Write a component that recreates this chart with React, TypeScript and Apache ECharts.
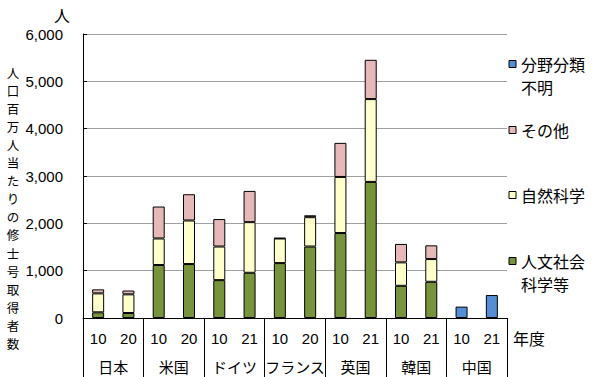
import React, { useEffect, useRef } from "react";
import * as echarts from "echarts";

const years = ["10", "20", "10", "20", "10", "21", "10", "20", "10", "21", "10", "21", "10", "21"];
const countries = ["日本", "米国", "ドイツ", "フランス", "英国", "韓国", "中国"];
const humanities = [120, 105, 1120, 1140, 800, 955, 1160, 1510, 1795, 2875, 680, 765, null, null];
const science = [400, 395, 560, 920, 710, 1070, 520, 620, 1185, 1750, 495, 480, null, null];
const other = [85, 80, 675, 555, 580, 660, 10, 40, 720, 830, 390, 290, null, null];
const unknown = [null, null, null, null, null, null, null, null, null, null, null, null, 240, 485];
const yTicks = [0, 1000, 2000, 3000, 4000, 5000, 6000];

const seriesNames = ["人文社会科学等", "自然科学", "その他", "分野分類不明"];
const seriesColors = ["#77933C", "#FFFFCC", "#E6B9B8", "#558ED5"];
const legendLabels = ["分野分類\n不明", "その他", "自然科学", "人文社会\n科学等"];
const yTitle = "人口百万人当たりの修士号取得者数";

const FONT = "'Noto Sans CJK JP', 'Noto Sans', sans-serif";
const NUM_FONT = "'Liberation Sans', Arial, sans-serif";

export default function App() {
  const ref = useRef<HTMLDivElement>(null);
  useEffect(() => {
    if (!ref.current) return;
    const chart = echarts.init(ref.current, null, { renderer: "svg" });
    const data = [humanities, science, other, unknown];
    const legendY = [64, 130, 195, 261];
    const legendOrder = [3, 2, 1, 0];
    const graphics: any[] = [];
    legendOrder.forEach((si, i) => {
      graphics.push({
        type: "rect",
        shape: { x: 509, y: legendY[i] - 3.5, width: 7, height: 7 },
        style: { fill: seriesColors[si], stroke: "#000", lineWidth: 1 },
      });
      legendLabels[i].split("\n").forEach((line, li) => {
        graphics.push({
          type: "text",
          x: 521,
          y: legendY[i] + li * 23,
          style: {
            text: line,
            font: `16px ${FONT}`,
            fill: "#000",
            lineHeight: 20,
            textVerticalAlign: "middle",
          },
        });
      });
    });
    yTitle.split("").forEach((ch, i) => {
      graphics.push({
        type: "text",
        x: 13,
        y: 72 + i * 18.1,
        style: {
          text: ch,
          font: `12.5px ${FONT}`,
          fill: "#000",
          lineHeight: 16,
          align: "center",
          textVerticalAlign: "middle",
        },
      });
    });
    graphics.push({
      type: "text",
      x: 62,
      y: 15,
      style: { text: "人", font: `16px ${FONT}`, fill: "#000", lineHeight: 18, align: "center", textVerticalAlign: "middle" },
    });
    graphics.push({
      type: "text",
      x: 513,
      y: 338,
      style: { text: "年度", font: `16px ${FONT}`, fill: "#000", lineHeight: 18, textVerticalAlign: "middle" },
    });

    chart.setOption({
      animation: false,
      grid: { left: 83, right: 93, top: 34, bottom: 59, containLabel: false },
      xAxis: [
        {
          type: "category",
          data: years,
          position: "bottom",
          axisLine: { show: true, lineStyle: { color: "#000", width: 1 } },
          axisTick: { show: false },
          axisLabel: { interval: 0, margin: 12, color: "#000", fontSize: 15, lineHeight: 16, fontFamily: NUM_FONT },
        },
        {
          type: "category",
          data: countries,
          position: "bottom",
          axisLine: { show: false },
          axisTick: { show: true, length: 59, alignWithLabel: false, interval: 0, lineStyle: { color: "#000", width: 1 } },
          axisLabel: { interval: 0, margin: 40, color: "#000", fontSize: 15, lineHeight: 16, fontFamily: FONT },
        },
      ],
      yAxis: {
        type: "value",
        min: 0,
        max: 6000,
        interval: 1000,
        axisLine: { show: true, lineStyle: { color: "#000", width: 1 } },
        axisTick: { show: true, inside: true, length: 4, lineStyle: { color: "#000" } },
        splitLine: { show: true, lineStyle: { color: "#A0A0A0", width: 1 } },
        axisLabel: {
          margin: 20,
          color: "#000",
          fontSize: 15,
          fontFamily: NUM_FONT,
          formatter: (v: number) => (yTicks.includes(v) ? v.toLocaleString("en-US") : ""),
        },
      },
      series: seriesNames.map((name, i) => ({
        name,
        type: "bar",
        stack: "total",
        xAxisIndex: 0,
        barWidth: 12,
        data: data[i].map((v) => (v === null ? "-" : v)),
        itemStyle: { color: seriesColors[i], borderColor: "#000", borderWidth: 1 },
      })),
      graphic: graphics,
    });
    return () => chart.dispose();
  }, []);
  return <div ref={ref} style={{ width: 600, height: 377, position: "absolute", left: 0, top: 0 }} />;
}
